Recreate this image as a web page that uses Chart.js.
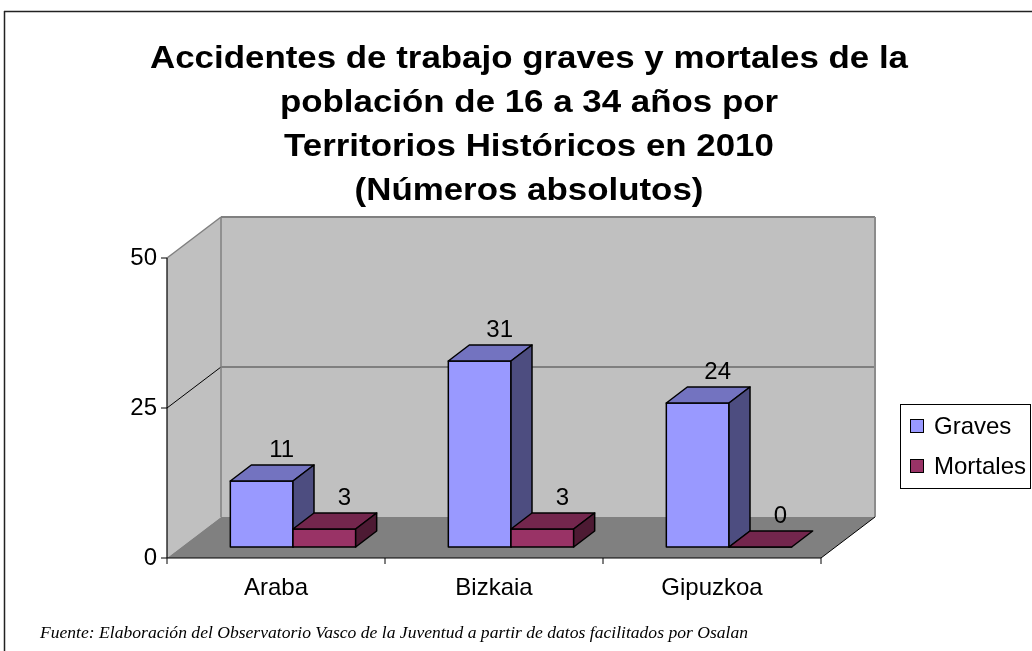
<!DOCTYPE html>
<html>
<head>
<meta charset="utf-8">
<script src="https://cdn.jsdelivr.net/npm/chart.js@4.4.1/dist/chart.umd.min.js"></script>
<style>
  html, body { margin: 0; padding: 0; background: #fff; }
  canvas { display: block; }
</style>
</head>
<body>
<canvas id="chart" width="1032" height="651"></canvas>
<script>
// data
const categories = ['Araba', 'Bizkaia', 'Gipuzkoa'];
const seriesNames = ['Graves', 'Mortales'];
const graves = [11, 31, 24];
const mortales = [3, 3, 0];
const yTicks = [0, 25, 50];

const titleLines = [
  'Accidentes de trabajo graves y mortales de la',
  'población de 16 a 34 años por',
  'Territorios Históricos en 2010',
  '(Números absolutos)'
];
const sourceNote = 'Fuente: Elaboración del Observatorio Vasco de la Juventud a partir de datos facilitados por Osalan';

// colours of the old Excel 3D look: front, top, side
const faceColors = [
  ['#9999FF', '#7373C0', '#4D4D80'],
  ['#993366', '#73264D', '#4D1A33']
];

const WALL_DX = 54, WALL_DY = -41;   // depth of the plot box
const BAR_DX = 17, BAR_DY = -11;     // where the bar front faces sit
const DEPTH_DX = 21, DEPTH_DY = -16; // bar thickness

function poly(ctx, pts, fill, stroke, lw) {
  ctx.beginPath();
  ctx.moveTo(pts[0][0], pts[0][1]);
  for (let i = 1; i < pts.length; i++) ctx.lineTo(pts[i][0], pts[i][1]);
  ctx.closePath();
  if (fill) { ctx.fillStyle = fill; ctx.fill(); }
  if (stroke) { ctx.strokeStyle = stroke; ctx.lineWidth = lw || 1; ctx.stroke(); }
}

function line(ctx, x1, y1, x2, y2, color, lw) {
  ctx.beginPath();
  ctx.moveTo(x1, y1);
  ctx.lineTo(x2, y2);
  ctx.strokeStyle = color;
  ctx.lineWidth = lw || 1;
  ctx.stroke();
}

const excel3d = {
  id: 'excel3d',
  beforeDatasetsDraw(chart) {
    const ctx = chart.ctx;
    const a = chart.chartArea;
    const ys = chart.scales.y;
    const xs = chart.scales.x;
    const L = a.left, R = a.right, T = a.top, B = a.bottom;

    ctx.save();
    // walls and floor
    poly(ctx, [[L, B], [L, T], [L + WALL_DX, T + WALL_DY], [L + WALL_DX, B + WALL_DY]], '#C0C0C0');
    poly(ctx, [[L + WALL_DX, T + WALL_DY], [R + WALL_DX, T + WALL_DY], [R + WALL_DX, B + WALL_DY], [L + WALL_DX, B + WALL_DY]], '#C0C0C0');
    poly(ctx, [[L, B], [R, B], [R + WALL_DX, B + WALL_DY], [L + WALL_DX, B + WALL_DY]], '#808080');

    // gridlines between floor and top
    yTicks.forEach(v => {
      if (v === ys.min || v === ys.max) return;
      const y = ys.getPixelForValue(v);
      line(ctx, L + WALL_DX, y + WALL_DY, R + WALL_DX, y + WALL_DY, '#6A6A6A', 1.5);
      line(ctx, L, y, L + WALL_DX, y + WALL_DY, '#000', 1);
    });

    // wall edges
    line(ctx, L, T, L + WALL_DX, T + WALL_DY, '#808080', 1.5);
    line(ctx, L + WALL_DX, T + WALL_DY, R + WALL_DX, T + WALL_DY, '#808080', 2);
    line(ctx, L + WALL_DX, T + WALL_DY, L + WALL_DX, B + WALL_DY, '#808080', 1.5);
    line(ctx, R + WALL_DX, T + WALL_DY, R + WALL_DX, B + WALL_DY, '#8C8C8C', 2);
    line(ctx, R, B, R + WALL_DX, B + WALL_DY, '#000', 1);

    // front axes
    line(ctx, L, T, L, B, '#000', 1.2);
    line(ctx, L, B, R, B, '#000', 1.2);

    // axis ticks and labels
    ctx.fillStyle = '#000';
    ctx.font = '24px "Liberation Sans", Arial, sans-serif';
    ctx.textAlign = 'right';
    ctx.textBaseline = 'middle';
    yTicks.forEach(v => {
      const y = ys.getPixelForValue(v);
      line(ctx, L - 6, y, L, y, '#000', 1);
      ctx.fillText(String(v), L - 10, y);
    });
    const step = xs.getPixelForValue(1) - xs.getPixelForValue(0);
    for (let i = 0; i <= categories.length; i++) {
      const x = xs.getPixelForValue(0) - step / 2 + i * step;
      line(ctx, x, B, x, B + 6, '#000', 1);
    }
    ctx.textAlign = 'center';
    categories.forEach((c, i) => {
      ctx.fillText(c, xs.getPixelForValue(i), B + 30);
    });

    // 3D bars, category by category so the nearer ones overlap properly
    const metas = chart.data.datasets.map((d, i) => chart.getDatasetMeta(i));
    ctx.lineJoin = 'round';
    for (let i = 0; i < categories.length; i++) {
      metas.forEach((meta, di) => {
        const el = meta.data[i];
        const cols = faceColors[di];
        const l = el.x - el.width / 2 + BAR_DX;
        const r = l + el.width;
        const t = el.y + BAR_DY;
        const b = el.base + BAR_DY;
        poly(ctx, [[l, b], [l, t], [r, t], [r, b]], cols[0], '#000', 1.5);
        poly(ctx, [[l, t], [r, t], [r + DEPTH_DX, t + DEPTH_DY], [l + DEPTH_DX, t + DEPTH_DY]], cols[1], '#000', 1.5);
        if (b - t > 0.5) {
          poly(ctx, [[r, t], [r + DEPTH_DX, t + DEPTH_DY], [r + DEPTH_DX, b + DEPTH_DY], [r, b]], cols[2], '#000', 1.5);
        }
      });
    }

    // value labels
    ctx.font = '24px "Liberation Sans", Arial, sans-serif';
    ctx.textAlign = 'center';
    ctx.textBaseline = 'alphabetic';
    ctx.fillStyle = '#000';
    metas.forEach((meta, di) => {
      const vals = chart.data.datasets[di].data;
      meta.data.forEach((el, i) => {
        const x = el.x + BAR_DX + 20;
        const y = el.y + BAR_DY + DEPTH_DY - 8;
        ctx.fillText(String(vals[i]), x, y);
      });
    });
    ctx.restore();
    return false; // the flat bars are replaced by the 3D ones
  },
  afterDraw(chart) {
    const ctx = chart.ctx;
    ctx.save();

    // outer frame
    line(ctx, 4, 11.5, 1032, 11.5, '#222', 1.5);
    line(ctx, 4.5, 11, 4.5, 651, '#222', 1.5);

    // title
    ctx.fillStyle = '#000';
    ctx.font = 'bold 32px "Liberation Sans", Arial, sans-serif';
    ctx.textAlign = 'center';
    ctx.textBaseline = 'alphabetic';
    titleLines.forEach((t, i) => {
      ctx.save();
      ctx.translate(529, 68 + i * 44);
      ctx.scale(1.09, 1);
      ctx.fillText(t, 0, 0);
      ctx.restore();
    });

    // legend
    ctx.strokeStyle = '#000';
    ctx.lineWidth = 1;
    ctx.strokeRect(900.5, 404.5, 130, 84);
    ctx.font = '24px "Liberation Sans", Arial, sans-serif';
    ctx.textAlign = 'left';
    ctx.textBaseline = 'middle';
    chart.data.datasets.forEach((ds, i) => {
      const cy = 426 + i * 40;
      ctx.fillStyle = ds.backgroundColor;
      ctx.fillRect(910.5, cy - 6.5, 13, 13);
      ctx.strokeRect(910.5, cy - 6.5, 13, 13);
      ctx.fillStyle = '#000';
      ctx.fillText(ds.label, 934, cy + 1);
    });

    // source note
    ctx.font = 'italic 17px "Liberation Serif", "Times New Roman", serif';
    ctx.textBaseline = 'alphabetic';
    const w = ctx.measureText(sourceNote).width;
    ctx.save();
    ctx.translate(40, 638);
    ctx.scale(708 / w, 1);
    ctx.fillText(sourceNote, 0, 0);
    ctx.restore();

    ctx.restore();
  }
};

new Chart(document.getElementById('chart'), {
  type: 'bar',
  data: {
    labels: categories,
    datasets: [
      { label: seriesNames[0], data: graves, backgroundColor: faceColors[0][0] },
      { label: seriesNames[1], data: mortales, backgroundColor: faceColors[1][0] }
    ]
  },
  options: {
    responsive: false,
    animation: false,
    datasets: { bar: { categoryPercentage: 0.575, barPercentage: 1 } },
    layout: { padding: { left: 167, right: 211, top: 258, bottom: 93 } },
    plugins: {
      legend: { display: false },
      title: { display: false },
      tooltip: { enabled: false }
    },
    scales: {
      x: { display: false },
      y: { display: false, min: 0, max: 50 }
    }
  },
  plugins: [excel3d]
});
</script>
</body>
</html>
